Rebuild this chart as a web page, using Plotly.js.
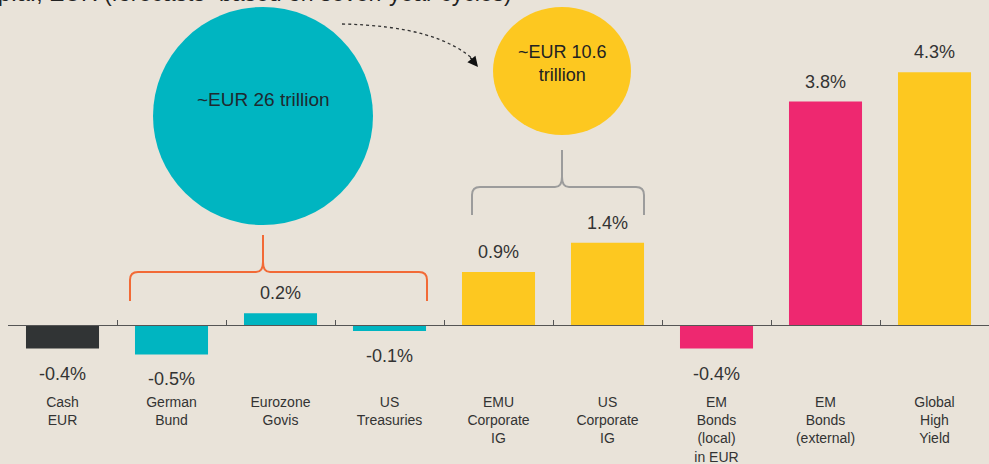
<!DOCTYPE html>
<html><head><meta charset="utf-8">
<script src="https://cdn.plot.ly/plotly-3.0.1.min.js"></script>
<style>html,body{margin:0;padding:0;background:#e9e3d9;}</style>
</head><body>
<div id="chart" style="width:989px;height:464px;"></div>
<script>
// ---- data ----
var categories = ["Cash<br>EUR","German<br>Bund","Eurozone<br>Govis","US<br>Treasuries","EMU<br>Corporate<br>IG","US<br>Corporate<br>IG","EM<br>Bonds<br>(local)<br>in EUR","EM<br>Bonds<br>(external)","Global<br>High<br>Yield"];
var returns = [-0.4, -0.5, 0.2, -0.1, 0.9, 1.4, -0.4, 3.8, 4.3];
var valueLabels = ["-0.4%","-0.5%","0.2%","-0.1%","0.9%","1.4%","-0.4%","3.8%","4.3%"];
var barColors = ["#313435","#00b5c1","#00b5c1","#00b5c1","#fdc820","#fdc820","#ee2870","#ee2870","#fdc820"];
var bubbleLabels = ["~EUR 26 trillion","~EUR 10.6<br>trillion"];
var titleText = "% p.a., EUR (forecasts\u00b9 based on seven-year cycles)";

// ---- geometry ----
var W = 989, H = 464, mL = 8, mR = 0, mT = 0, mB = 74;
var pw = W - mL - mR, ph = H - mT - mB;
var yMin = -1.105, yMax = 5.527;
function PX(px){ return (px - mL) / pw; }
function PY(py){ return (ph + mT - py) / ph; }
function path(cmds){
  return cmds.map(function(c){
    if (typeof c === 'string') return c;
    return PX(c[0]).toFixed(5) + ',' + PY(c[1]).toFixed(5);
  }).join(' ');
}
var font = "Liberation Sans, Arial, sans-serif";
var txt = "#333333";

var trace = {
  type: 'bar', x: categories, y: returns,
  marker: {color: barColors, line: {width: 0}},
  width: 0.67, hoverinfo: 'skip'
};

var annotations = returns.map(function(v, i){
  return {x: categories[i], y: v, xref: 'x', yref: 'y', text: valueLabels[i],
    showarrow: false, xanchor: 'center', yanchor: 'middle', yshift: v >= 0 ? 20 : -25,
    font: {family: font, size: 18, color: txt}};
});
annotations.push({xref:'paper', yref:'paper', x: PX(263), y: PY(100), xanchor:'center', yanchor:'middle',
  text: bubbleLabels[0], showarrow:false, font:{family:font, size:19, color:'#1e2a30'}});
annotations.push({xref:'paper', yref:'paper', x: PX(562), y: PY(64), xanchor:'center', yanchor:'middle',
  text: bubbleLabels[1], showarrow:false, font:{family:font, size:18, color:'#222'}});
annotations.push({xref:'paper', yref:'paper', x: PX(514), y: 1, xanchor:'right', yanchor:'bottom',
  yshift:-8, text: titleText, showarrow:false, font:{family:font, size:23, color:'#222'}});
// arrow head
annotations.push({xref:'paper', yref:'paper', x: PX(478), y: PY(67), ax: -9, ay: -11, text:'',
  showarrow:true, arrowhead:2, arrowsize:1.6, arrowwidth:1.3, arrowcolor:'#111'});

var shapes = [
  {type:'circle', xref:'paper', yref:'paper', x0:PX(153), x1:PX(373), y0:PY(225), y1:PY(7),
   fillcolor:'#00b5c1', line:{width:0}, layer:'below'},
  {type:'circle', xref:'paper', yref:'paper', x0:PX(493), x1:PX(631), y0:PY(135), y1:PY(7),
   fillcolor:'#fdc820', line:{width:0}, layer:'below'},
  {type:'path', xref:'paper', yref:'paper',
   path: path(['M',[342,24],'Q',[440,26],[476,62]]),
   line:{color:'#333', width:1.3, dash:'dot'}},
  {type:'path', xref:'paper', yref:'paper',
   path: path(['M',[130,301],'L',[130,280],'Q',[130,272],[138,272],'L',[256,272],'Q',[263,272],[263,262],
     'Q',[263,272],[270,272],'L',[419,272],'Q',[427,272],[427,280],'L',[427,301],'M',[263,262],'L',[263,235]]),
   line:{color:'#f26a36', width:2}},
  {type:'path', xref:'paper', yref:'paper',
   path: path(['M',[472,215],'L',[472,195],'Q',[472,187],[480,187],'L',[555,187],'Q',[562,187],[562,177],
     'Q',[562,187],[569,187],'L',[636,187],'Q',[644,187],[644,195],'L',[644,215],'M',[562,177],'L',[562,150]]),
   line:{color:'#9c9c9c', width:2}}
];

var zeroPos = (0 - yMin) / (yMax - yMin);

var layout = {
  width: W, height: H,
  margin: {l: mL, r: mR, t: mT, b: mB, pad: 0},
  paper_bgcolor: '#e9e3d9', plot_bgcolor: '#e9e3d9',
  showlegend: false,
  xaxis: {type:'category', categoryarray: categories, range:[-0.5, 8.5], showline:false,
    ticks:'', showgrid:false, zeroline:false, fixedrange:true,
    tickfont:{family:font, size:14, color:txt}, ticklabelstandoff: 2},
  xaxis2: {type:'category', categoryarray: categories, range:[-0.5, 8.5], overlaying:'x',
    anchor:'free', position: zeroPos, showline:true, linecolor:'#555', linewidth:1,
    ticks:'inside', tickson:'boundaries', ticklen:5, tickcolor:'#555', tickwidth:1,
    showticklabels:false, showgrid:false, zeroline:false},
  yaxis: {range:[yMin, yMax], visible:false, showgrid:false, zeroline:false, fixedrange:true},
  bargap: 0.33,
  shapes: shapes,
  annotations: annotations
};

var ghost = {type:'scatter', x: categories, y: returns.map(function(){return null;}), xaxis:'x2', mode:'markers', hoverinfo:'skip', showlegend:false};

Plotly.newPlot('chart', [trace, ghost], layout, {displayModeBar:false, staticPlot:true});
</script>
</body></html>
